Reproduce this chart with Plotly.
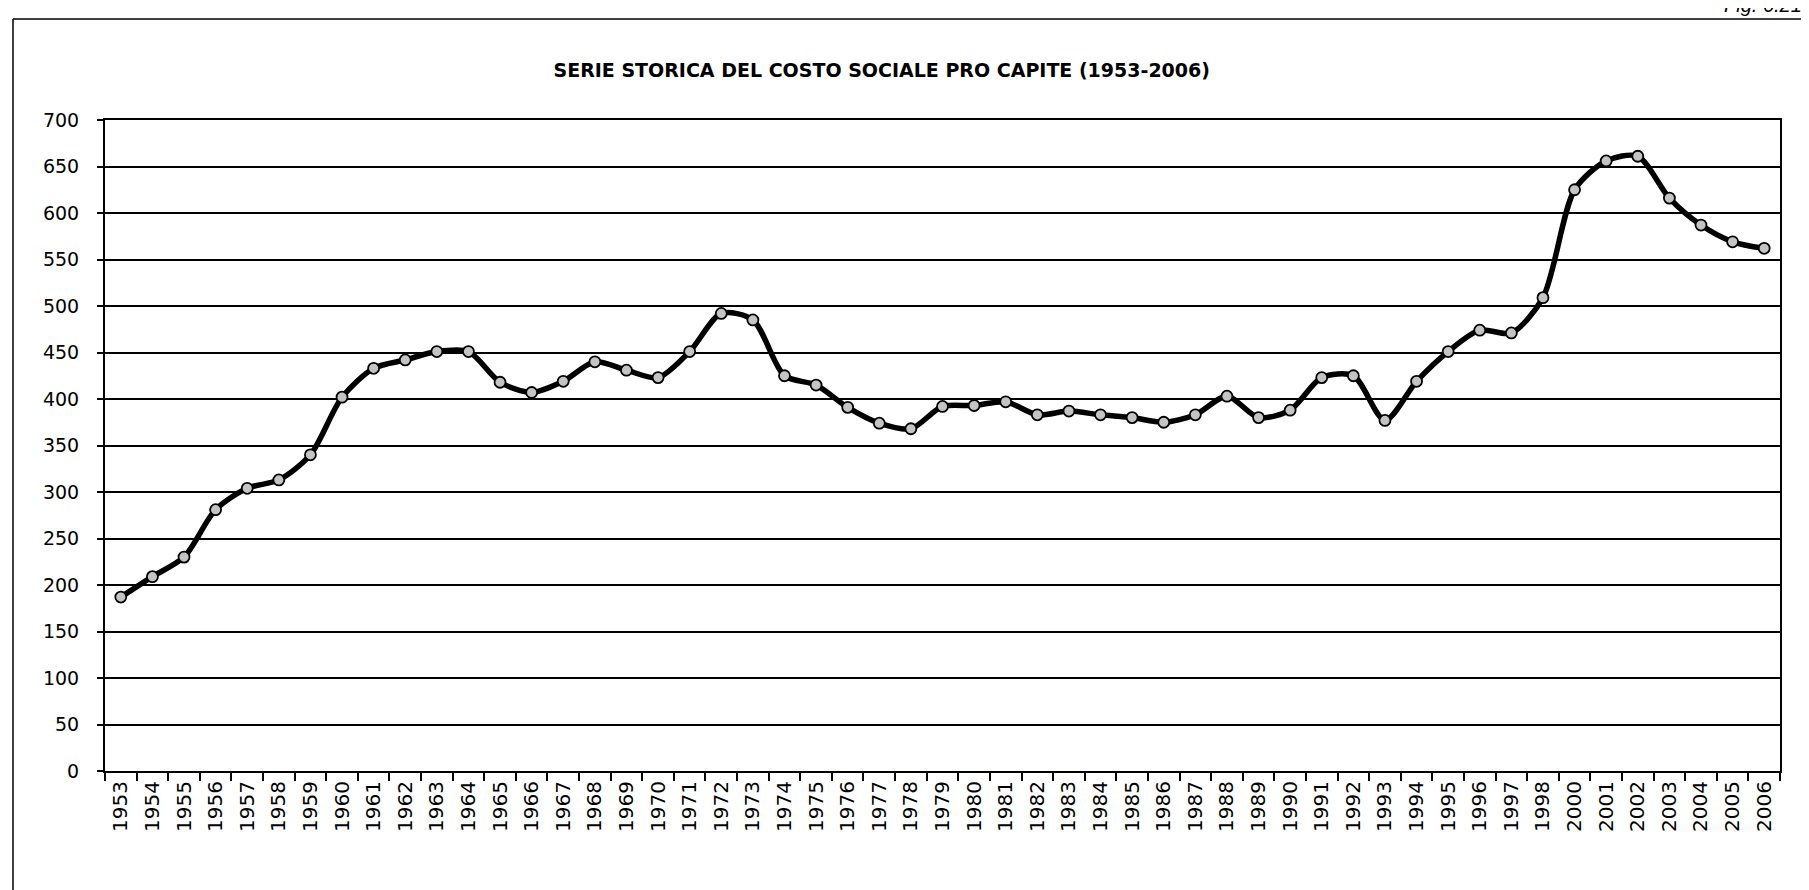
import plotly.graph_objects as go

years = [str(y) for y in range(1953, 1999)] + [str(y) for y in range(2000, 2007)]
costo = [187, 209, 230, 281, 304, 313, 340, 402, 433, 442, 451, 451, 418, 407, 419, 440,
         431, 423, 451, 492, 485, 425, 415, 391, 374, 368, 392, 393, 397, 383, 387, 383,
         380, 375, 383, 403, 380, 388, 423, 425, 377, 419, 451, 474, 471, 509,
         625, 656, 661, 616, 587, 569, 562]
y_ticks = list(range(0, 701, 50))

title_text = "SERIE STORICA DEL COSTO SOCIALE PRO CAPITE (1953-2006)"
fig_label = "Fig. 6.21"
source_text = "Elaborazione ECT su dati Istat"

W, H = 1809, 890
L, R, T, B = 97, 1772, 112, 763
pw, ph = R - L, B - T

def px(x):
    return (x - L) / pw

def py(y):
    return (B - y) / ph

fig = go.Figure()
fig.add_trace(go.Scatter(
    x=years, y=costo, mode="lines+markers",
    line=dict(color="black", width=5.5, shape="spline", smoothing=0.8),
    marker=dict(symbol="circle", size=11, color="#c4c4c4",
                line=dict(color="black", width=1.8)),
    showlegend=False, hoverinfo="x+y",
))

font_main = "DejaVu Sans"

fig.update_layout(
    width=W, height=H,
    margin=dict(l=L, r=W - R, t=T, b=H - B),
    paper_bgcolor="white", plot_bgcolor="white",
    font=dict(family=font_main, color="black", size=16),
    title=dict(text="<b>" + title_text + "</b>", x=px(906), xanchor="center",
               y=1 - 62 / H, yanchor="middle",
               font=dict(family=font_main, size=19, color="black")),
)

fig.update_xaxes(
    type="category", categoryorder="array", categoryarray=years,
    range=[-0.5, len(years) - 0.5],
    tickangle=-90, tickson="boundaries", ticks="outside", ticklen=8,
    tickcolor="black", tickwidth=1.5,
    showline=True, linecolor="black", linewidth=2, mirror=True,
    showgrid=False, tickfont=dict(size=20, color="black"),
)
fig.update_yaxes(
    range=[0, 700], tickvals=y_ticks, ticktext=[str(v) for v in y_ticks],
    ticks="outside", ticklen=6, tickcolor="black", tickwidth=1.5,
    showline=True, linecolor="black", linewidth=2, mirror=True,
    showgrid=True, gridcolor="black", gridwidth=2,
    tickfont=dict(size=19, color="black"), ticklabelstandoff=14,
    zeroline=False,
)

# outer frame
fig.add_shape(type="line", xref="paper", yref="paper",
              x0=px(5), x1=px(5), y0=py(11), y1=py(892),
              line=dict(color="black", width=1.5))
fig.add_shape(type="line", xref="paper", yref="paper",
              x0=px(5), x1=px(1796), y0=py(11), y1=py(11),
              line=dict(color="black", width=1.5))
fig.add_shape(type="line", xref="paper", yref="paper",
              x0=px(1796), x1=px(1796), y0=py(11), y1=py(892),
              line=dict(color="#777777", width=1, dash="dot"))

fig.add_annotation(text="<i>" + fig_label + "</i>", xref="paper", yref="paper",
                   x=px(1796), y=py(10), xanchor="right", yanchor="bottom",
                   showarrow=False, font=dict(family="Liberation Sans", size=20, color="black"))
fig.add_annotation(text=source_text, xref="paper", yref="paper",
                   x=px(1342), y=py(884), xanchor="left", yanchor="top",
                   showarrow=False, font=dict(family="Liberation Sans", size=20, color="#888888"))

fig.write_html("out.html")
